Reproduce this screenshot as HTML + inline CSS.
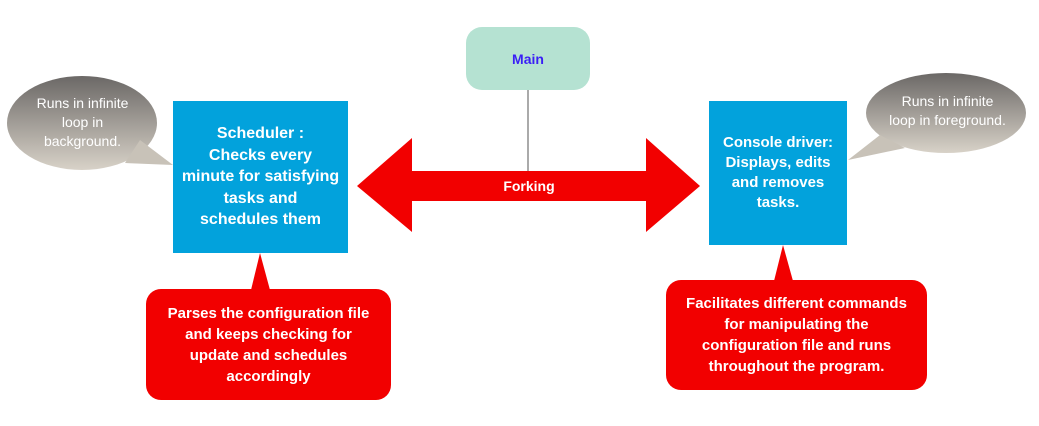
<!DOCTYPE html>
<html><head><meta charset="utf-8"><style>
body{margin:0;width:1039px;height:426px;background:#fff;overflow:hidden;position:relative;font-family:"Liberation Sans",Arial,sans-serif;}
.t{position:absolute;display:flex;align-items:center;justify-content:center;text-align:center;color:#fff;font-weight:bold;}
</style></head><body>
<svg width="1039" height="426" style="position:absolute;left:0;top:0">
<defs>
<linearGradient id="g" x1="0" y1="0" x2="0" y2="1"><stop offset="0" stop-color="#6b6866"/><stop offset="1" stop-color="#d8d2c8"/></linearGradient>
</defs>
<rect x="466" y="27" width="124" height="63" rx="16" fill="#b5e2d2"/>
<line x1="528" y1="90" x2="528" y2="172" stroke="#555" stroke-width="1"/>
<polygon points="357,186 412,138 412,171 646,171 646,138 700,186 646,232 646,201 412,201 412,232" fill="#f20000"/>
<ellipse cx="82" cy="123" rx="75" ry="47" fill="url(#g)"/>
<polygon points="140,140 173,165 125,163" fill="#c8c2b8"/>
<ellipse cx="946" cy="113" rx="80" ry="40" fill="url(#g)"/>
<polygon points="880,135 848,160 905,148" fill="#c8c2b8"/>
<rect x="173" y="101" width="175" height="152" fill="#02a2dc"/>
<rect x="709" y="101" width="138" height="144" fill="#02a2dc"/>
<polygon points="251,290 260,253 270,290" fill="#f20000"/>
<rect x="146" y="289" width="245" height="111" rx="15" fill="#f20000"/>
<polygon points="774,281 783,245 793,281" fill="#f20000"/>
<rect x="666" y="280" width="261" height="110" rx="15" fill="#f20000"/>
</svg>
<div class="t" style="left:466px;top:27px;width:124px;height:63px;color:#3a1ff5;font-size:14px">Main</div>
<div class="t" style="left:412px;top:171px;width:234px;height:30px;font-size:14px">Forking</div>
<div class="t" style="left:15px;top:90px;width:135px;height:65px;font-weight:normal;font-size:14px;line-height:19px">Runs in infinite<br>loop in<br>background.</div>
<div class="t" style="left:865px;top:90px;width:165px;height:42px;font-weight:normal;font-size:14px;line-height:19px">Runs in infinite<br>loop in foreground.</div>
<div class="t" style="left:168px;top:101px;width:185px;height:152px;font-size:16px;line-height:21.5px">Scheduler :<br>Checks every<br>minute for satisfying<br>tasks and<br>schedules them</div>
<div class="t" style="left:704px;top:101px;width:148px;height:144px;font-size:15px;line-height:20px">Console driver:<br>Displays, edits<br>and removes<br>tasks.</div>
<div class="t" style="left:141px;top:289px;width:255px;height:111px;font-size:15px;line-height:21px">Parses the configuration file<br>and keeps checking for<br>update and schedules<br>accordingly</div>
<div class="t" style="left:661px;top:280px;width:271px;height:110px;font-size:15px;line-height:21px">Facilitates different commands<br>for manipulating the<br>configuration file and runs<br>throughout the program.</div>
</body></html>
